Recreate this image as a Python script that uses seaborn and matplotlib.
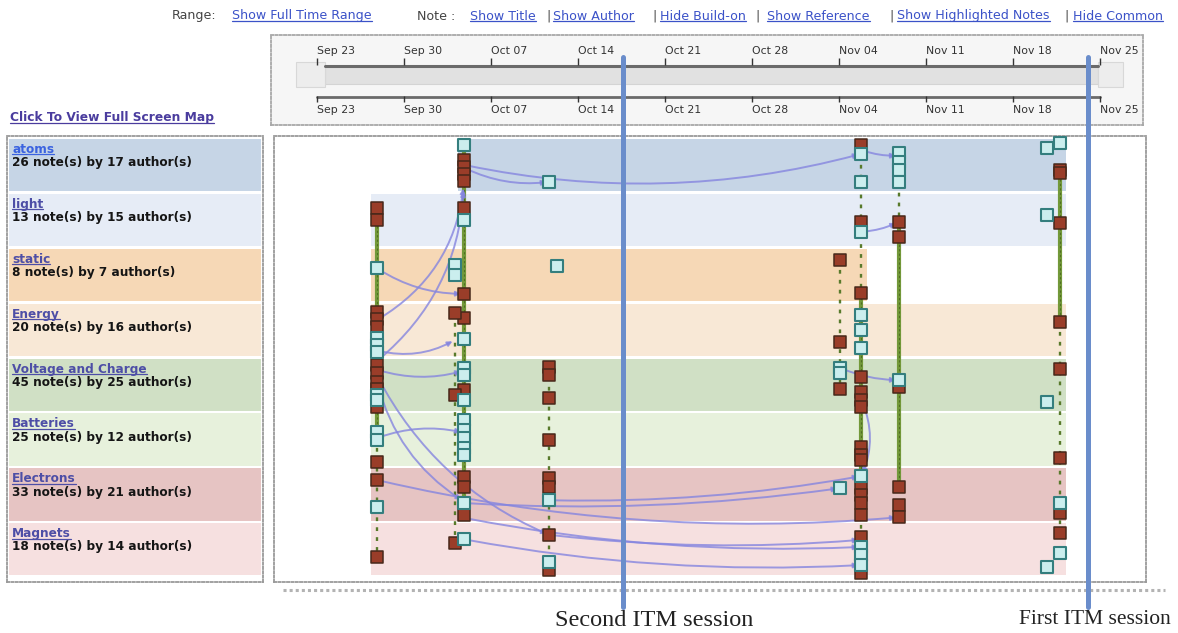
import numpy as np
import pandas as pd
import matplotlib
matplotlib.use("Agg")
import matplotlib.pyplot as plt
import seaborn as sns
from matplotlib.patches import FancyArrowPatch, Rectangle
from matplotlib.lines import Line2D
from matplotlib import transforms

# ---------------- data ----------------
topics = ["atoms", "light", "static", "Energy", "Voltage and Charge",
          "Batteries", "Electrons", "Magnets"]
note_counts = [26, 13, 8, 20, 45, 25, 33, 18]
author_counts = [17, 15, 7, 16, 25, 12, 21, 14]
band_colors = ["#c6d5e6", "#e6ecf6", "#f6d8b6", "#f8e8d6",
               "#d0e0c5", "#e7f1dc", "#e6c4c3", "#f6e0e0"]

# days counted from Sep 23
week_days = [0, 7, 14, 21, 28, 35, 42, 49, 56, 63]
week_labels = ["Sep 23", "Sep 30", "Oct 07", "Oct 14", "Oct 21",
               "Oct 28", "Nov 04", "Nov 11", "Nov 18", "Nov 25"]

# note columns: day, positions (topic index + fraction) of plain notes / built-on notes
col_days = [4.8, 11.8, 11.1, 18.7, 19.3, 42.1, 43.8, 46.8, 59.8, 58.7]
col_red = [
    [1.26, 1.48, 3.15, 3.27, 3.42, 4.12, 4.27, 4.42, 4.55, 4.88, 5.88, 6.21, 7.61],
    [0.38, 0.51, 0.64, 0.77, 1.26, 2.82, 3.26, 4.57, 6.16, 6.34, 6.85],
    [3.17, 4.66, 7.36],
    [4.15, 4.30, 4.72, 5.48, 6.17, 6.34, 7.21, 7.85],
    [],
    [2.20, 3.70, 4.55],
    [0.11, 1.51, 2.81, 4.33, 4.61, 4.75, 4.88, 5.61, 5.76, 5.85, 6.36, 6.48,
     6.63, 6.85, 7.25, 7.91],
    [1.51, 1.78, 4.52, 6.34, 6.67, 6.89],
    [0.56, 0.62, 1.53, 3.33, 4.19, 5.81, 6.81, 7.18],
    [],
]
col_teal = [
    [2.35, 3.62, 3.75, 3.88, 4.66, 4.75, 5.33, 5.48, 6.70],
    [0.11, 1.48, 3.64, 4.17, 4.30, 4.75, 5.12, 5.30, 5.45, 5.63, 5.75, 6.63, 7.29],
    [2.30, 2.48],
    [0.78, 6.58, 7.70],
    [2.31],
    [4.17, 4.27, 6.36],
    [0.27, 0.78, 1.69, 3.21, 3.48, 3.81, 6.14, 7.43, 7.58, 7.76],
    [0.26, 0.42, 0.56, 0.78, 4.39],
    [0.07, 6.63, 7.54],
    [0.16, 1.38, 4.79, 7.80],
]

# same-author chains inside a column
seg_day = [4.8, 4.8, 11.8, 11.1, 18.7, 42.1, 43.8, 43.8, 43.8, 46.8, 46.8, 59.8, 59.8]
seg_from = [1.26, 5.45, 0.11, 3.17, 4.15, 2.20, 0.11, 2.81, 6.85, 0.26, 1.51, 0.56, 3.33]
seg_to = [5.45, 7.61, 6.85, 7.36, 7.85, 4.55, 2.81, 6.85, 7.91, 1.51, 6.34, 3.33, 7.18]
seg_solid = [True, False, True, False, False, False, False, True, False, False, True, True, False]

# build-on links between notes
link_from_day = [11.8, 11.8, 43.8, 43.8, 4.8, 4.8, 4.8, 4.8, 4.8, 4.8, 4.8, 4.8,
                 4.8, 11.8, 11.8, 18.7, 18.7, 11.8, 42.1, 43.8]
link_from_pos = [0.47, 0.52, 0.20, 1.69, 3.30, 4.05, 2.35, 3.85, 4.20, 5.45, 4.30,
                 4.40, 6.21, 6.90, 7.29, 7.21, 6.58, 6.63, 4.17, 4.75]
link_to_day = [43.8, 18.7, 46.8, 46.8, 11.8, 11.8, 11.8, 11.1, 11.8, 11.8, 18.7,
               11.8, 46.8, 43.8, 43.8, 43.8, 43.8, 42.1, 46.8, 43.8]
link_to_pos = [0.27, 0.78, 0.30, 1.51, 0.85, 0.90, 2.82, 3.66, 4.22, 5.35, 7.21,
               6.60, 6.89, 7.43, 7.76, 7.30, 6.14, 6.36, 4.39, 6.14]
link_rad = [0.12, 0.15, 0.10, 0.10, 0.25, 0.22, 0.15, 0.20, 0.15, -0.15, 0.18,
            0.20, 0.08, 0.06, 0.06, 0.05, 0.05, 0.05, 0.10, -0.22]

itm_days = [24.6, 62.0]
itm_labels = ["Second ITM session", "First ITM session"]

# ---------------- figure ----------------
sns.set_theme(style="white")
plt.rcParams["font.family"] = ["DejaVu Sans"]

W, H = 1178, 633
fig = plt.figure(figsize=(W / 100, H / 100), dpi=100)
fig.patch.set_facecolor("white")


def frect(x0, y0, x1, y1):
    return [x0 / W, 1 - y1 / H, (x1 - x0) / W, (y1 - y0) / H]


def fx(x):
    return x / W


def fy(y):
    return 1 - y / H


PXD = (1100 - 317) / 63.0   # pixels per day
X0 = 317                     # pixel of day 0
PYU = 54.9                   # pixels per topic band
Y0 = 139

rows = []
for d, reds, teals in zip(col_days, col_red, col_teal):
    rows += [(d, p, "note") for p in reds]
    rows += [(d, p, "build-on") for p in teals]
notes = pd.DataFrame(rows, columns=["day", "pos", "kind"])
notes["topic"] = notes["pos"].astype(int)
ext = notes.groupby("topic")["day"].agg(["min", "max"])


def dotted_box(a, color="#9a9a9a"):
    for s in a.spines.values():
        s.set_visible(True)
        s.set_linestyle((0, (1.2, 1.2)))
        s.set_color(color)
        s.set_linewidth(1.3)
    a.set_xticks([])
    a.set_yticks([])
    a.set_xlabel("")
    a.set_ylabel("")


# ---- main map ----
ax = fig.add_axes(frect(274, 136, 1146, 582))
ax.set_facecolor("white")
for i in range(len(topics)):
    lo, hi = ext.loc[i, "min"], ext.loc[i, "max"]
    ax.barh(i + 0.475, hi - lo + 0.9, left=lo - 0.45, height=0.95,
            color=band_colors[i], linewidth=0, zorder=1)

for d, a0, a1, solid in zip(seg_day, seg_from, seg_to, seg_solid):
    if solid:
        ax.plot([d, d], [a0, a1], color="#73993a", lw=3.0, zorder=3,
                solid_capstyle="butt")
        ax.plot([d, d], [a0, a1], color="#4f6e22", lw=0.8, zorder=3,
                ls=(0, (2, 2)))
    else:
        ax.plot([d, d], [a0, a1], color="#587a2b", lw=1.7, zorder=3,
                ls=(0, (1.6, 2.6)))

for fd, fp, td, tp, r in zip(link_from_day, link_from_pos, link_to_day,
                             link_to_pos, link_rad):
    arr = FancyArrowPatch((fd, fp), (td, tp), connectionstyle=f"arc3,rad={r}",
                          arrowstyle="-|>", mutation_scale=7,
                          color="#8585df", lw=1.4, alpha=0.8, zorder=4)
    ax.add_patch(arr)

sns.scatterplot(data=notes[notes["kind"] == "note"], x="day", y="pos",
                marker="s", s=66, color="#9a3d29", edgecolor="#47281a",
                linewidth=1.1, ax=ax, zorder=6, legend=False)
sns.scatterplot(data=notes[notes["kind"] == "build-on"], x="day", y="pos",
                marker="s", s=66, color="#cbeeee", edgecolor="#347e7e",
                linewidth=1.5, ax=ax, zorder=6, legend=False)

ax.set_xlim((274 - X0) / PXD, (1146 - X0) / PXD)
ax.set_ylim((582 - Y0) / PYU, (136 - Y0) / PYU)
dotted_box(ax)

# ---- left topic panel ----
axL = fig.add_axes(frect(7, 136, 263, 582))
axL.set_xlim(0, 1)
axL.set_ylim((582 - Y0) / PYU, (136 - Y0) / PYU)
link_texts = []
for i, (t, n, a) in enumerate(zip(topics, note_counts, author_counts)):
    axL.barh(i + 0.475, 0.985, left=0.008, height=0.95, color=band_colors[i],
             linewidth=0)
    col = "#3a62e0" if i == 0 else "#4d4ea6"
    tt = axL.text(0.02, i + 0.19, t, fontsize=8.7, fontweight="bold",
                  color=col, va="center", ha="left")
    link_texts.append(tt)
    axL.text(0.02, i + 0.43, f"{n} note(s) by {a} author(s)", fontsize=8.7,
             fontweight="bold", color="#151515", va="center", ha="left")
dotted_box(axL)

# ---- timeline ----
axT = fig.add_axes(frect(271, 35, 1143, 125))
axT.set_facecolor("#f6f6f6")
axT.set_xlim((271 - X0) / PXD, (1143 - X0) / PXD)
axT.set_ylim(125, 35)
axT.add_patch(Rectangle((0.64, 66), 62.2, 18, fc="#e1e1e1", ec="#d4d4d4", lw=0.8))
axT.add_patch(Rectangle((-1.65, 62), 2.29, 25, fc="#ededed", ec="#d8d8d8", lw=0.8))
axT.add_patch(Rectangle((62.84, 62), 2.0, 25, fc="#ededed", ec="#d8d8d8", lw=0.8))
axT.plot([0.64, 62.84], [65.5, 65.5], color="#6a6a6a", lw=2.2)
axT.plot([0, 63], [96.5, 96.5], color="#6a6a6a", lw=2.0)
axT.vlines(week_days, 58, 65, color="#333", lw=1)
axT.vlines(week_days, 96, 102, color="#333", lw=1)
for d, lab in zip(week_days, week_labels):
    axT.text(d, 51, lab, fontsize=7.8, color="#333", ha="left", va="center")
    axT.text(d, 110, lab, fontsize=7.8, color="#333", ha="left", va="center")
dotted_box(axT, "#a8a8a8")

# ---- ITM session lines ----
trans = transforms.blended_transform_factory(ax.transData, fig.transFigure)
for d in itm_days:
    fig.add_artist(Line2D([d, d], [fy(607), fy(57)], transform=trans,
                          color="#6a8dcb", lw=3.6, zorder=10))
fig.text(fx(654), fy(620), itm_labels[0], ha="center", va="center",
         family="Liberation Serif", fontsize=17.5, color="#222")
fig.text(fx(1095), fy(619), itm_labels[1], ha="center", va="center",
         family="Liberation Serif", fontsize=15.5, color="#222")

fig.add_artist(Line2D([fx(283), fx(1165)], [fy(590), fy(590)], color="#b3b3b3",
                      lw=2.2, ls=(0, (1, 1))))

# ---- top control row ----
pieces = [(172, "Range:", False), (232, "Show Full Time Range", True),
          (417, "Note :", False), (470, "Show Title", True), (546, "|", False),
          (553, "Show Author", True), (652, "|", False), (660, "Hide Build-on", True),
          (755, "|", False), (767, "Show Reference", True), (889, "|", False),
          (897, "Show Highlighted Notes", True), (1064, "|", False),
          (1073, "Hide Common", True)]
for x, s, is_link in pieces:
    t = fig.text(fx(x), fy(16), s, fontsize=9.1, ha="left", va="center",
                 color="#3b52c8" if is_link else "#444")
    if is_link:
        link_texts.append(t)

ct = fig.text(fx(10), fy(118), "Click To View Full Screen Map", fontsize=8.8,
              fontweight="bold", color="#4a3c9e", ha="left", va="center")
link_texts.append(ct)

fig.canvas.draw()
ren = fig.canvas.get_renderer()
for t in link_texts:
    bb = t.get_window_extent(ren)
    fig.add_artist(Line2D([bb.x0, bb.x1], [bb.y0 + 1.5, bb.y0 + 1.5],
                          transform=transforms.IdentityTransform(),
                          color=t.get_color(), lw=0.9))

fig.savefig("out.png", dpi=100, facecolor="white")
